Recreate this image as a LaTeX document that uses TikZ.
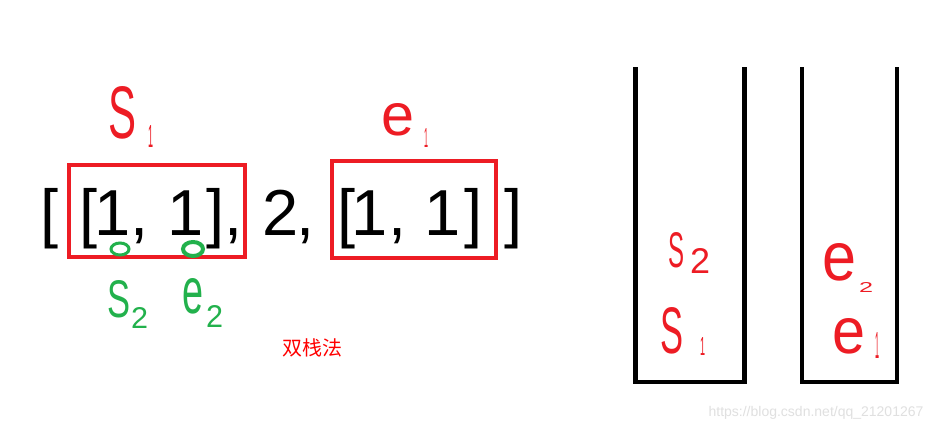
\documentclass[tikz,border=0pt]{standalone}
\usepackage{fontspec}
\setmainfont{Liberation Sans}
\newfontfamily\cjk{Noto Sans CJK SC}
\usetikzlibrary{positioning}
\definecolor{paintred}{RGB}{237,28,36}
\definecolor{paintgreen}{RGB}{34,177,76}
\newcommand{\handglyph}[3]{\resizebox{#1pt}{#2pt}{#3}}

\begin{document}
\begin{tikzpicture}[x=1pt,y=-1pt]
\tikzstyle{token}=[anchor=base,inner sep=0pt,font=\fontsize{65}{78}\selectfont]
\tikzstyle{hand}=[anchor=north west,inner sep=0pt,font=\fontsize{40}{40}\selectfont]
\tikzstyle{redbox}=[draw=paintred,line width=4pt]
\tikzstyle{stack}=[draw=black,line width=4.5pt]

\useasboundingbox[fill=white] (0,0) rectangle (949,432);

% the nested list
\foreach \x/\t [count=\i] in {50/[,89/[,113/1,140/{,},186/1,216/],234/{,},281/2,306/{,},347/[,370/1,398/{,},443/1,474/],514/]}
  \node[token] (tok\i) at (\x,235) {\t};

\draw[redbox] (69,165) rectangle (245,257);
\draw[redbox] (332,161) rectangle (496,258);

% marks on the first inner list
\draw[paintgreen,line width=3pt] (120,249) ellipse (9 and 6);
\draw[paintgreen,line width=4pt] (193,249) ellipse (10 and 7);

% hand written labels
\foreach \x/\y/\w/\h/\c/\col [count=\i] in {
  108/86/28/52/S/paintred, 148/125/5/22/1/paintred,
  381/103/33/32/e/paintred, 424/128/4/19/1/paintred,
  107/280/23/37/S/paintgreen, 131/307/17/21/2/paintgreen,
  182/278/21/35/e/paintgreen, 206/305/17/22/2/paintgreen,
  668/232/16/35/S/paintred, 690/248/20/25/2/paintred,
  660/307/23/46/S/paintred, 700/337/5/18/1/paintred,
  822/243/34/37/e/paintred, 859/282/14/10/2/paintred,
  832/318/33/35/e/paintred, 875/332/4/26/1/paintred}
  \node[hand,text=\col] (hw\i) at (\x,\y) {\handglyph{\w}{\h}{\c}};

\node[text=red,font=\cjk\fontsize{20}{20}\selectfont] (title) at (312,348) {双栈法};

% the two stacks
\draw[stack] (635.5,67) -- (635.5,382) -- (744.5,382) -- (744.5,67);
\draw[stack] (802,67) -- (802,382) -- (897,382) -- (897,67);

\node[text=black!12,font=\fontsize{14}{14}\selectfont] (mark) at (816,413) {https://blog.csdn.net/qq\_21201267};
\end{tikzpicture}
\end{document}
